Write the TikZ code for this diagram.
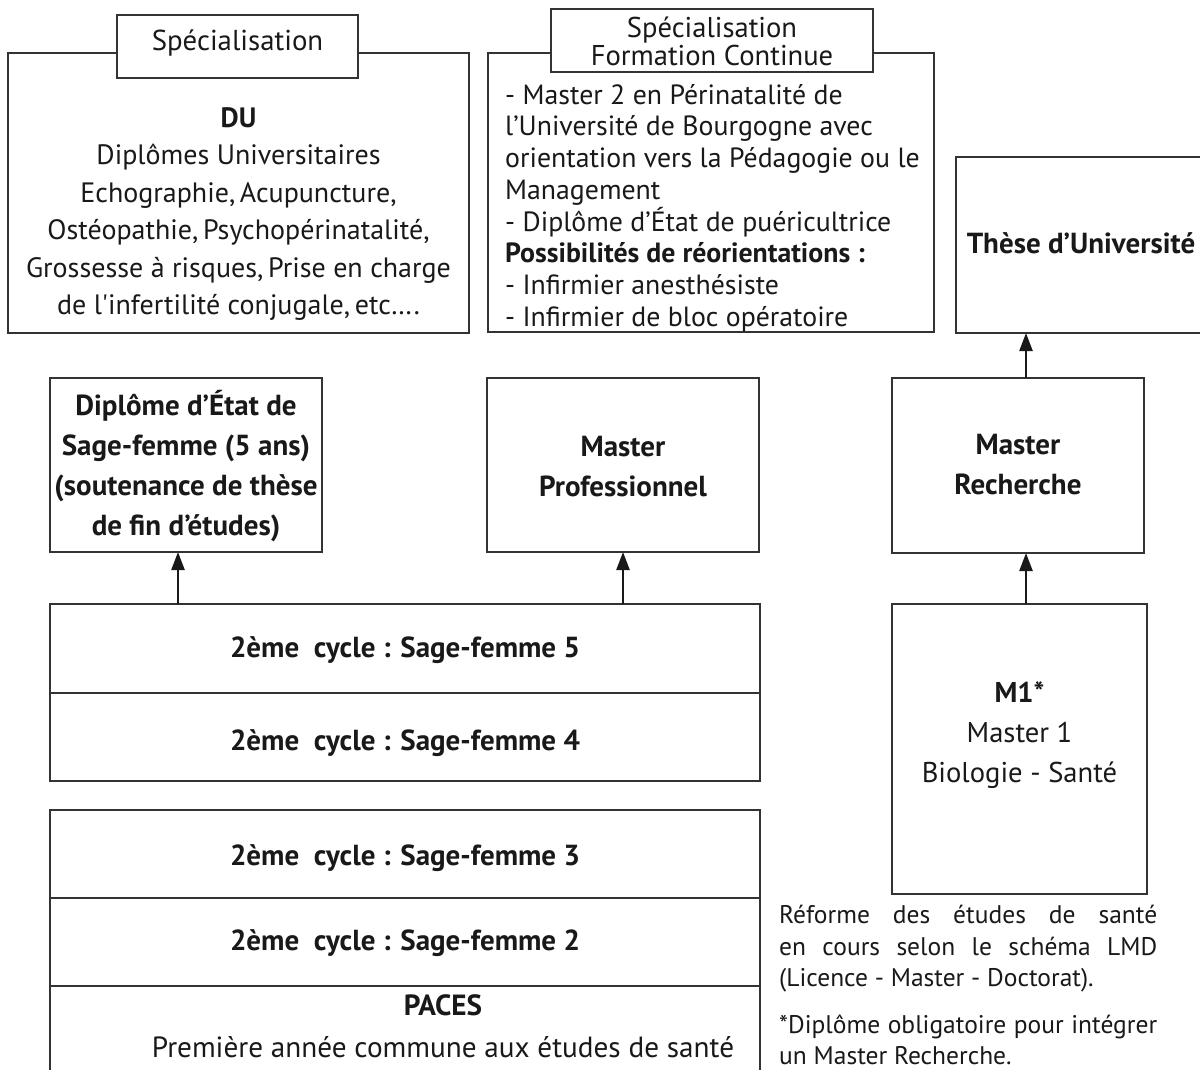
\documentclass[tikz,border=0pt]{standalone}
\usepackage{fontspec}
\setmainfont{PT Sans}
\usetikzlibrary{arrows.meta}
\begin{document}
\begin{tikzpicture}[x=1pt,y=-1pt,
  box/.style={draw=black!80,line width=1.3pt,fill=white,rectangle,inner sep=0pt,outer sep=0pt},
  arr/.style={-{Triangle[length=18pt,width=13pt]},line width=2.4pt,black!90},
  txt/.style={inner sep=0pt,align=center,text=black!90},
  cyc/.style={txt,font=\fontsize{29}{30}\selectfont\bfseries},
]
\clip (0,0) rectangle (1200,1070);
\useasboundingbox (0,0) rectangle (1200,1070);
\fill[white] (0,0) rectangle (1200,1070);

% DU box
\node[box,minimum width=461pt,minimum height=280pt] (dubox) at (238.5,193) {};
\node[box,minimum width=241pt,minimum height=63pt] (dulabel) at (237.5,46.5) {};
\node[txt,font=\fontsize{28.8}{30}\selectfont] (dulabeltxt) at (237.5,43) {Spécialisation};
\node[txt,font=\fontsize{28}{37.5}\selectfont] (dutext) at (238.5,214) {\textbf{DU}\\Diplômes Universitaires\\Echographie,\,Acupuncture,\\Ostéopathie,\,Psychopérinatalité,\\Grossesse à risques,\,Prise en charge\\de l\textquotesingle infertilité conjugale,\,etc….};

% Formation continue box
\node[box,minimum width=446pt,minimum height=279pt] (fcbox) at (711,192.5) {};
\node[box,minimum width=322pt,minimum height=63pt] (fclabel) at (712,40.5) {};
\node[txt,font=\fontsize{28.6}{28}\selectfont] (fclabeltxt) at (712,41.5) {Spécialisation\\Formation Continue};
\node[txt,align=left,anchor=west,font=\fontsize{27.8}{31.7}\selectfont] (fctext) at (505,208) {- Master 2 en Périnatalité de\\l’Université de Bourgogne avec\\orientation vers la Pédagogie ou le\\Management\\- Diplôme d’État de puéricultrice\\\textbf{Possibilités de réorientations :}\\- Infirmier anesthésiste\\- Infirmier de bloc opératoire};

% Right column
\node[box,minimum width=250pt,minimum height=176pt] (these) at (1081,245) {};
\node[txt,font=\fontsize{29}{37.5}\selectfont\bfseries] (thesetxt) at (1081,243.5) {Thèse d’Université};
\node[box,minimum width=252pt,minimum height=175pt] (mrech) at (1018,465.5) {};
\node[txt,font=\fontsize{29}{40}\selectfont\bfseries] (mrechtxt) at (1018,465) {Master\\Recherche};
\node[box,minimum width=255pt,minimum height=290pt] (m1) at (1019.5,749) {};
\node[txt,font=\fontsize{28.6}{40}\selectfont] (m1txt) at (1019.5,735) {\textbf{M1*}\\Master 1\\Biologie - Santé};

% Middle row
\node[box,minimum width=272pt,minimum height=174pt] (dip) at (186,465) {};
\node[txt,font=\fontsize{29}{40}\selectfont\bfseries] (diptxt) at (186,466) {Diplôme d’État de\\Sage-femme (5 ans)\\(soutenance de thèse\\de fin d’études)};
\node[box,minimum width=272pt,minimum height=174pt] (mpro) at (623,465) {};
\node[txt,font=\fontsize{29}{40}\selectfont\bfseries] (mprotxt) at (623,467) {Master\\Professionnel};

% Cycles
\node[box,minimum width=710pt,minimum height=89pt] (sf5) at (405,648.5) {};
\node[box,minimum width=710pt,minimum height=88pt] (sf4) at (405,737) {};
\draw[black!80,line width=2.6pt] (sf5.south west) -- (sf5.south east);
\node[cyc] (sf5txt) at (405,650) {2ème\ \ cycle : Sage-femme 5};
\node[cyc] (sf4txt) at (405,743) {2ème\ \ cycle : Sage-femme 4};

\node[box,minimum width=710pt,minimum height=88pt] (sf3) at (405,854) {};
\node[box,minimum width=710pt,minimum height=88pt] (sf2) at (405,942) {};
\node[box,minimum width=710pt,minimum height=100pt] (paces) at (405,1036) {};
\draw[black!80,line width=2.6pt] (sf2.south west) -- (sf2.south east);
\node[cyc] (sf3txt) at (405,858) {2ème\ \ cycle : Sage-femme 3};
\node[cyc] (sf2txt) at (405,943) {2ème\ \ cycle : Sage-femme 2};
\node[txt,font=\fontsize{29.2}{42}\selectfont] (pacestxt) at (443,1026) {\textbf{PACES}\\Première année commune aux études de santé};

% Arrows
\draw[arr] ([xshift=-8pt]dip.south |- sf5.north) -- ([xshift=-8pt]dip.south);
\draw[arr] (mpro.south |- sf5.north) -- (mpro.south);
\draw[arr] ([xshift=8pt]mrech.north |- m1.north) -- ([xshift=8pt]mrech.south);
\draw[arr] ([xshift=8pt]mrech.north) -- ([xshift=8pt]mrech.north |- these.south);

% Note
\node[txt,align=justify,anchor=north west,text width=378pt,font=\fontsize{25.5}{31.5}\selectfont] (note) at (779,905) {Réforme des études de santé\linebreak en cours selon le schéma LMD\linebreak (Licence - Master - Doctorat).\par\vspace{15pt}*Diplôme obligatoire pour intégrer\linebreak un Master Recherche.};
\end{tikzpicture}
\end{document}
